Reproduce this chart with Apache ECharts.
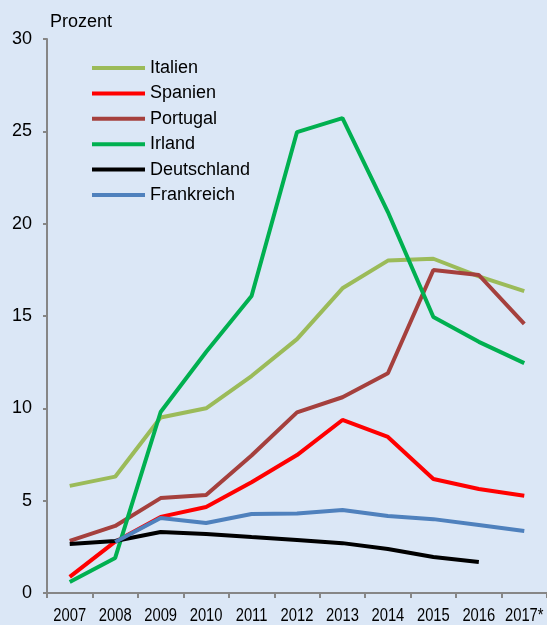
<!DOCTYPE html>
<html>
<head>
<meta charset="utf-8">
<script src="https://cdn.jsdelivr.net/npm/echarts@6/dist/echarts.min.js"></script>
<style>
html,body{margin:0;padding:0;background:#dbe7f6;}
#chart{width:547px;height:625px;}
</style>
</head>
<body>
<div id="chart"></div>
<script>
var categories = ['2007','2008','2009','2010','2011','2012','2013','2014','2015','2016','2017*'];
var yTicks = [0, 5, 10, 15, 20, 25, 30];
var italien     = [5.8, 6.3, 9.5, 10.0, 11.75, 13.75, 16.5, 18.0, 18.1, 17.15, 16.35];
var spanien     = [0.87, 2.78, 4.12, 4.66, 6.0, 7.47, 9.37, 8.45, 6.17, 5.63, 5.27];
var portugal    = [2.82, 3.63, 5.14, 5.31, 7.45, 9.78, 10.6, 11.9, 17.49, 17.22, 14.57];
var irland      = [0.6, 1.9, 9.8, 13.05, 16.08, 24.96, 25.72, 20.63, 14.95, 13.6, 12.45];
var deutschland = [2.65, 2.82, 3.3, 3.2, 3.03, 2.87, 2.7, 2.38, 1.95, 1.68, null];
var frankreich  = [null, 2.76, 4.06, 3.79, 4.28, 4.3, 4.5, 4.17, 4.0, 3.68, 3.36];

var seriesNames  = ['Italien','Spanien','Portugal','Irland','Deutschland','Frankreich'];
var seriesData   = [italien, spanien, portugal, irland, deutschland, frankreich];
var seriesColors = ['#9bbb59','#ff0000','#a5403d','#00b050','#000000','#4f81bd'];

var FONT = 'Liberation Sans, Arial, sans-serif';
var chart = echarts.init(document.getElementById('chart'), null, {renderer:'canvas'});
var series = seriesNames.map(function(n, i){
  return {
    name: n, type: 'line', data: seriesData[i], symbol: 'none',
    lineStyle: {width: 4, color: seriesColors[i]},
    itemStyle: {color: seriesColors[i]},
    connectNulls: false, animation: false
  };
});
chart.setOption({
  backgroundColor: '#dbe7f6',
  animation: false,
  grid: {left: 47, top: 39, width: 502, bottom: 32, containLabel: false},
  legend: {
    orient: 'vertical', left: 92, top: 59, padding: 0,
    itemWidth: 53, itemHeight: 4, itemGap: 7.4,
    textStyle: {fontSize: 18, fontFamily: FONT, color: '#000', lineHeight: 18},
    data: seriesNames.map(function(n){return {name:n, icon:'rect'};})
  },
  xAxis: {
    type: 'category', data: categories, boundaryGap: true,
    axisLine: {lineStyle: {color: '#868686', width: 2}},
    axisTick: {show: true, length: 5, lineStyle: {color: '#868686', width: 2}},
    axisLabel: {show: false}
  },
  yAxis: {
    type: 'value', min: yTicks[0], max: yTicks[yTicks.length-1], interval: 5,
    splitLine: {show: false},
    axisLine: {show: true, lineStyle: {color: '#868686', width: 2}},
    axisTick: {show: true, length: 4, lineStyle: {color: '#868686', width: 2}},
    axisLabel: {fontSize: 18, fontFamily: FONT, color: '#000', margin: 15}
  },
  series: series
});
// condensed x-axis labels, positioned through the category axis scale
var baseY = chart.convertToPixel({yAxisIndex: 0}, 0);
var graphics = [{type:'text', left: 50, top: 13, style:{text:'Prozent', fontSize:18, fontFamily:FONT, fill:'#000'}}];
categories.forEach(function(c){
  var px = chart.convertToPixel({xAxisIndex: 0}, c);
  graphics.push({
    type: 'text', x: px, y: baseY + 23, scaleX: 0.82, scaleY: 1,
    style: {text: c, fontSize: 18, fontFamily: FONT, fill: '#000', align: 'center', verticalAlign: 'middle'}
  });
});
chart.setOption({graphic: graphics});
</script>
</body>
</html>
